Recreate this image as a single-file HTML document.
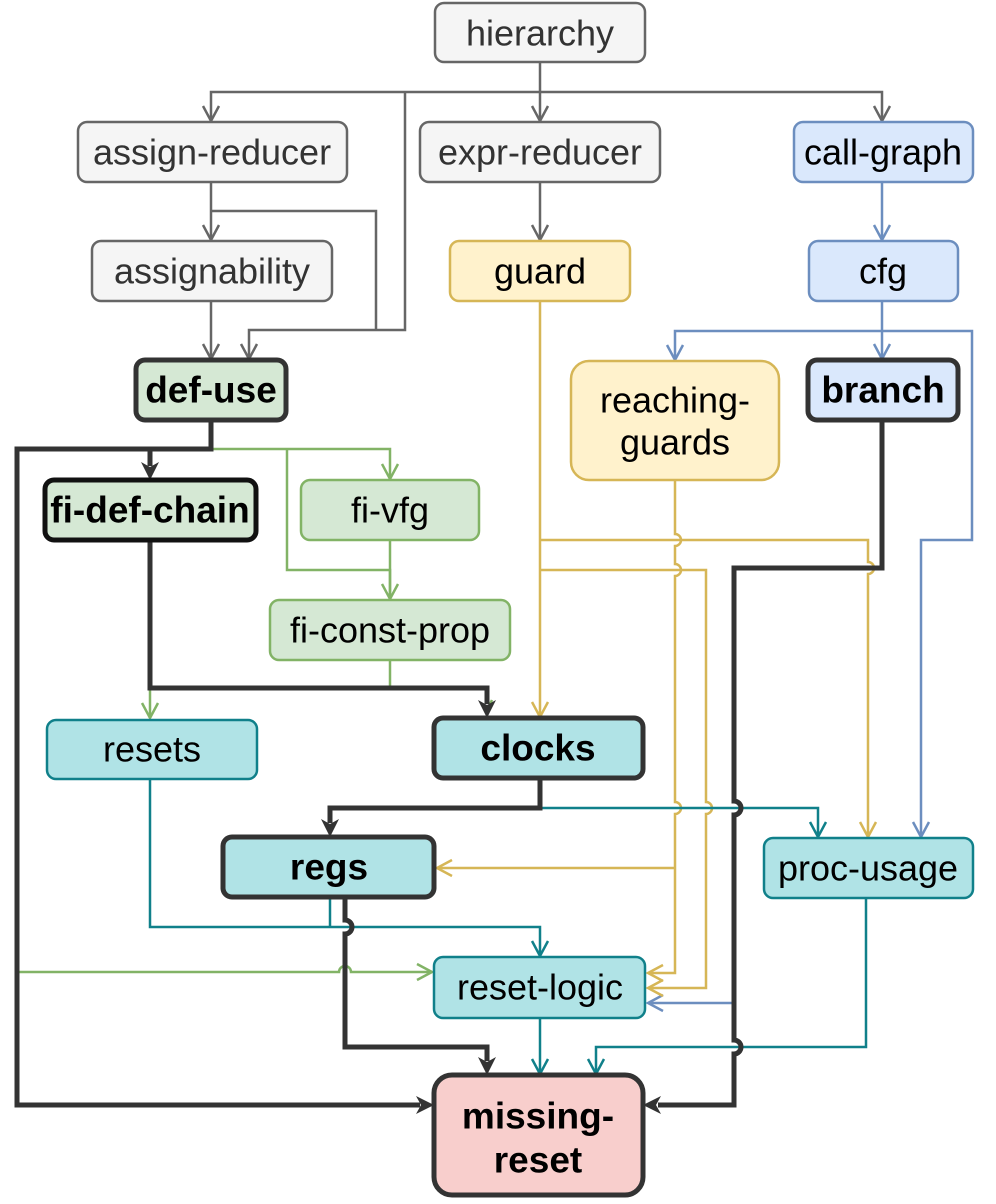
<!DOCTYPE html>
<html><head><meta charset="utf-8"><style>
html,body{margin:0;padding:0;background:#fff;}
svg{display:block;}
text{font-family:"Liberation Sans",Arial,sans-serif;font-size:36px;text-anchor:middle;dominant-baseline:central;}
.b{font-weight:bold;font-size:37px;}
</style></head><body>
<svg width="996" height="1204" viewBox="0 0 996 1204" xmlns="http://www.w3.org/2000/svg">
<g fill="none" stroke-linejoin="miter">
<!-- gray -->
<g stroke="#666" stroke-width="2.5">
<path d="M540 62V120"/><path d="M211 120V92H882V120"/><path d="M405 92V330H249V358"/>
<path d="M211 182V239"/><path d="M211 211H376V330"/><path d="M211 301V358"/><path d="M540 182V239"/>
<path d="M203 106L211 121L219 106M532 106L540 121L548 106M874 106L882 121L890 106M203 225L211 240L219 225M532 225L540 240L548 225M203 344L211 359L219 344M241 344L249 359L257 344"/>
</g>
<!-- blue -->
<g stroke="#6c8ebf" stroke-width="2.5">
<path d="M882 182V239"/><path d="M882 301V358"/><path d="M675 359V331H972V540H921V836"/><path d="M733 1003H648"/>
<path d="M874 225L882 240L890 225M874 344L882 359L890 344M667 345L675 360L683 345M913 822L921 837L929 822M663 995L648 1003L663 1011"/>
</g>
<!-- yellow -->
<g stroke="#d6b656" stroke-width="2.5">
<path d="M540 301V716"/><path d="M540 540H868V562A6 6 0 0 1 868 574V836"/><path d="M540 570H706V802A6 6 0 0 1 706 814V988H648"/>
<path d="M675 480V534A6 6 0 0 1 675 546V564A6 6 0 0 1 675 576V802A6 6 0 0 1 675 814V973H648"/><path d="M675 868H437"/>
<path d="M532 702L540 717L548 702M860 822L868 837L876 822M663 965L648 973L663 981M663 980L648 988L663 996M452 860L437 868L452 876"/>
</g>
<!-- green -->
<g stroke="#82b366" stroke-width="2.5">
<path d="M211 449H390V478"/><path d="M287 449V570H390V598"/><path d="M390 540V598"/><path d="M150 688V718"/><path d="M390 660V688"/>
<path d="M17 972H339A6 6 0 0 1 351 972H432"/>
<path d="M382 464L390 479L398 464M382 584L390 599L398 584M142 703L150 718L158 703M417 964L432 972L417 980"/>
<path d="M487 710L492 700"/>
</g>
<!-- teal -->
<g stroke="#10808a" stroke-width="2.5">
<path d="M150 779V927H540V955"/><path d="M330 897V927"/><path d="M540 808H818V836"/><path d="M540 1018V1073"/><path d="M866 898V1047H596V1073"/>
<path d="M532 941L540 956L548 941M810 822L818 837L826 822M532 1059L540 1074L548 1059M588 1059L596 1074L604 1059"/>
</g>
<!-- black -->
<g stroke="#333" stroke-width="5">
<path d="M211 420V449H17V1105H420"/><path d="M150 449V466"/>
<path d="M150 540V688H487V704"/>
<path d="M540 778V808H330V823"/>
<path d="M345 897V920A7 7 0 0 1 345 934V1047H487V1061"/>
<path d="M882 420V568H734V801A7 7 0 0 1 734 815V1040A7 7 0 0 1 734 1054V1105H658"/>
</g>
<g fill="#333">
<path d="M141 462L150 480L159 462L150 467Z"/><path d="M478 700L487 718L496 700L487 705Z"/><path d="M321 819L330 837L339 819L330 824Z"/>
<path d="M478 1057L487 1075L496 1057L487 1062Z"/><path d="M416 1096L434 1105L416 1114L421 1105Z"/><path d="M661 1096L643 1105L661 1114L656 1105Z"/>
</g>
</g>
<!-- nodes -->
<g stroke-width="2.5">
<rect x="435" y="3" width="210" height="59" rx="9" fill="#f5f5f5" stroke="#666"/>
<rect x="78" y="122" width="269" height="60" rx="9" fill="#f5f5f5" stroke="#666"/>
<rect x="420" y="122" width="240" height="60" rx="9" fill="#f5f5f5" stroke="#666"/>
<rect x="794" y="122" width="179" height="60" rx="9" fill="#dae8fc" stroke="#6c8ebf"/>
<rect x="92" y="241" width="240" height="60" rx="9" fill="#f5f5f5" stroke="#666"/>
<rect x="450" y="241" width="180" height="60" rx="9" fill="#fff2cc" stroke="#d6b656"/>
<rect x="809" y="241" width="149" height="60" rx="9" fill="#dae8fc" stroke="#6c8ebf"/>
<rect x="571" y="361" width="208" height="119" rx="18" fill="#fff2cc" stroke="#d6b656"/>
<rect x="301" y="480" width="178" height="60" rx="9" fill="#d5e8d4" stroke="#82b366"/>
<rect x="270" y="600" width="240" height="60" rx="9" fill="#d5e8d4" stroke="#82b366"/>
<rect x="47" y="720" width="210" height="59" rx="9" fill="#b0e3e6" stroke="#10808a"/>
<rect x="764" y="838" width="209" height="60" rx="9" fill="#b0e3e6" stroke="#10808a"/>
<rect x="434" y="957" width="211" height="61" rx="9" fill="#b0e3e6" stroke="#10808a"/>
</g>
<g stroke-width="5" stroke="#333">
<rect x="136" y="360" width="150" height="60" rx="9" fill="#d5e8d4"/>
<rect x="808" y="360" width="150" height="60" rx="9" fill="#dae8fc"/>
<rect x="45" y="480" width="211" height="60" rx="9" fill="#d5e8d4" stroke="#111"/>
<rect x="434" y="718" width="209" height="60" rx="9" fill="#b0e3e6"/>
<rect x="223" y="837" width="211" height="60" rx="9" fill="#b0e3e6"/>
<rect x="434" y="1075" width="209" height="120" rx="18" fill="#f8cecc"/>
</g>
<g fill="#333">
<text x="540" y="33">hierarchy</text>
<text x="212" y="152">assign-reducer</text>
<text x="540" y="152">expr-reducer</text>
<text x="212" y="271">assignability</text>
</g>
<g fill="#000">
<text x="883" y="152">call-graph</text>
<text x="540" y="271">guard</text>
<text x="883" y="271">cfg</text>
<text x="675" y="400">reaching-</text>
<text x="675" y="442">guards</text>
<text x="390" y="510">fi-vfg</text>
<text x="390" y="630">fi-const-prop</text>
<text x="152" y="749">resets</text>
<text x="868" y="868">proc-usage</text>
<text x="540" y="987">reset-logic</text>
<text class="b" x="211" y="390">def-use</text>
<text class="b" x="883" y="390">branch</text>
<text class="b" x="150" y="510">fi-def-chain</text>
<text class="b" x="538" y="748">clocks</text>
<text class="b" x="329" y="867">regs</text>
<text class="b" x="538" y="1116">missing-</text>
<text class="b" x="538" y="1160">reset</text>
</g>
</svg>
</body></html>
